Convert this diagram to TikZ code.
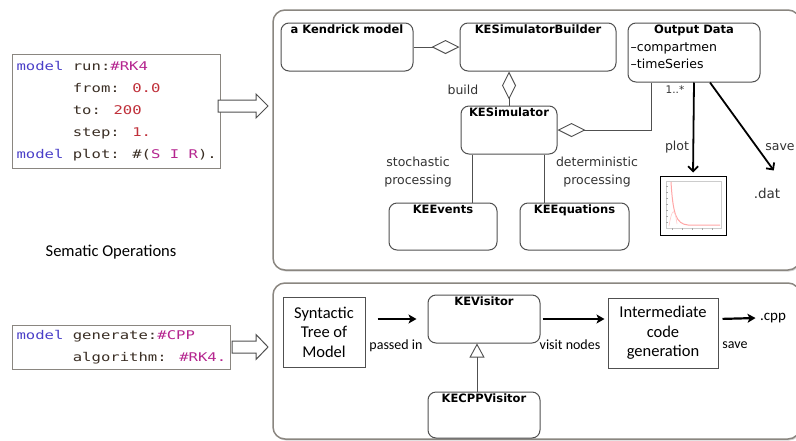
\documentclass[tikz,border=0pt]{standalone}
\usepackage{fontspec}
\usetikzlibrary{positioning,arrows.meta,shadows}

\newfontfamily\umlfont{DejaVu Sans}
\newfontfamily\calfont{Carlito}
\newfontfamily\codefont[FakeStretch=1.3]{DejaVu Sans Mono}

\definecolor{kwblue}{HTML}{4A3FC8}
\definecolor{symmag}{HTML}{B5258F}
\definecolor{numred}{HTML}{C0303A}
\definecolor{codetxt}{HTML}{3A2E24}
\definecolor{panelgray}{HTML}{8A8680}
\definecolor{umlgray}{HTML}{505050}

\newcommand{\kw}[1]{\textcolor{kwblue}{#1}}
\newcommand{\symb}[1]{\textcolor{symmag}{#1}}
\newcommand{\numval}[1]{\textcolor{numred}{#1}}
\newcommand{\ind}{\hphantom{model\ }}
% hollow block arrow: tail point, length, shaft half width, head half width
\newcommand{\hollowarrow}[4]{%
  \draw[draw=umlgray, line width=1pt, fill=white, line join=miter]
    ($(#1)+(0,-#3)$) -- ++(#2-12,0) -- ++(0,#3-#4) -- ($(#1)+(#2,0)$)
    -- ($(#1)+(#2-12,#4)$) -- ++(0,#3-#4) -- ($(#1)+(0,#3)$) -- cycle;}

\usetikzlibrary{calc}

\begin{document}
\begin{tikzpicture}[x=1pt, y=-1pt,
  panel/.style={draw=panelgray, line width=1.5pt, rounded corners=12pt, fill=white,
    drop shadow={shadow xshift=1pt, shadow yshift=-1.5pt, opacity=.35}},
  umlbox/.style={draw=umlgray, line width=1pt, rounded corners=8pt, fill=white},
  ttl/.style={anchor=north, inner sep=2pt, font=\umlfont\bfseries\fontsize{11.5}{13}\selectfont},
  umltitle/.style={label={[ttl]north:#1}},
  codebox/.style={draw=panelgray, line width=1pt, anchor=north west, align=left,
    inner sep=4pt, text=codetxt, font=\codefont\fontsize{12}{22}\selectfont},
  plainbox/.style={draw=umlgray, line width=1pt, align=center,
    font=\calfont\fontsize{16.5}{19.5}\selectfont},
  lbl/.style={font=\umlfont\fontsize{12.5}{18}\selectfont, align=center, text=black!80},
  flowlbl/.style={font=\calfont\fontsize{14}{16}\selectfont},
  conn/.style={draw=umlgray, line width=0.9pt},
  diam/.style={conn, -{Diamond[open, length=28pt, width=14pt]}},
  inherit/.style={conn, -{Triangle[open, length=14pt, width=15pt]}},
  bigbarb/.style={line width=1.8pt, -{Straight Barb[length=5pt, width=10pt]}},
  flow/.style={line width=2.2pt, -{Stealth[length=8pt, width=9pt, inset=2pt]}}]

  \useasboundingbox (0,0) rectangle (796,440);
  \fill[white] (0,0) rectangle (796,440);

  % --- Left side: code snippets ---
  \node[codebox, minimum width=201pt, minimum height=114pt] (codeRun) at (12,54)
    {\kw{model} run:\symb{\#RK4}\\
     \ind from: \numval{0.0}\\
     \ind to: \numval{200}\\
     \ind step: \numval{1.}\\
     \kw{model} plot: \#(\symb{S I R}).};
  \node[codebox, minimum width=211pt, minimum height=44pt] (codeGen) at (12,325)
    {\kw{model} generate:\symb{\#CPP}\\
     \ind algorithm: \symb{\#RK4.}};
  \node[font=\calfont\fontsize{16.5}{19}\selectfont] (semLabel) at (111,252) {Sematic Operations};

  \coordinate (arrRun) at (218,106);
  \coordinate (arrGen) at (232,347);
  \hollowarrow{arrRun}{50}{6}{12}
  \hollowarrow{arrGen}{36}{6}{12.5}

  % --- Panels ---
  \node[panel, minimum width=527pt, minimum height=260pt] (semPanel) at (536.5,140) {};
  \node[panel, minimum width=527pt, minimum height=156pt] (genPanel) at (536.5,361) {};

  % --- Upper panel: simulation classes ---
  \node[umlbox, minimum width=132pt, minimum height=48pt, umltitle=a Kendrick model] (kendrick) at (347,47) {};
  \node[umlbox, minimum width=156pt, minimum height=48pt, umltitle=KESimulatorBuilder] (builder) at (538,47) {};
  \node[umlbox, minimum width=132pt, minimum height=59pt, umltitle=Output Data,
    label={[anchor=north west, align=left, inner sep=3pt, yshift=-17pt,
      font=\umlfont\fontsize{12.5}{17}\selectfont]north west:{–compartmen\\–timeSeries}}] (outdata) at (694,52.5) {};
  \node[umlbox, minimum width=96pt, minimum height=48pt, umltitle=KESimulator] (sim) at (509,130) {};
  \node[umlbox, minimum width=108pt, minimum height=47pt, umltitle=KEEvents] (events) at (443,226.5) {};
  \node[umlbox, minimum width=109pt, minimum height=47pt, umltitle=KEEquations] (equations) at (574.5,226.5) {};

  \node[draw, line width=1pt, minimum width=66pt, minimum height=59pt] (plotfig) at (693,205.5) {};
  \draw[black!20, line width=0.5pt] (666,181) rectangle (721,228);
  \foreach \ty in {186,192,...,222} \draw[black!35, line width=0.4pt] (666,\ty) -- (668,\ty);
  \foreach \tx in {672,682,...,712} \draw[black!35, line width=0.4pt] (\tx,228) -- (\tx,230);
  \draw[red!35, line width=1pt] (671,182) .. controls (673,214) and (676,224) .. (688,225) -- (720,225);
  \draw[red!20, line width=0.6pt] (669,226) .. controls (671,214) and (674,202) .. (677,224);

  \node[lbl] (dat) at (767,193) {\fontsize{13.5}{15}\selectfont .dat};
  \node[lbl] (build) at (463,90) {build};
  \node[lbl, font=\umlfont\fontsize{10.5}{12}\selectfont] (mult) at (675,90) {1..*};
  \node[lbl] (plotlbl) at (677,147) {plot};
  \node[lbl] (savelbl) at (780,147) {save};
  \node[lbl] (stoch) at (418,172) {stochastic\\processing};
  \node[lbl] (determ) at (597,172) {deterministic\\processing};

  \draw[diam] (kendrick) -- (builder);
  \draw[diam] (sim.north) -- (sim.north |- builder.south);
  \draw[diam] ([xshift=24pt]outdata.south west) |- (sim.east);
  \draw[conn] ([xshift=12pt]sim.south west) -- ([xshift=12pt]sim.south west |- events.north);
  \draw[conn] ([xshift=-13pt]sim.south east) -- ([xshift=-13pt]sim.south east |- equations.north);
  \draw[bigbarb, shorten >=3pt] (outdata.south) -- (plotfig.north);
  \draw[bigbarb, shorten >=17pt] ([xshift=16pt]outdata.south) -- (dat.north east);

  % --- Lower panel: code generation ---
  \node[plainbox, minimum width=82pt, minimum height=70pt] (tree) at (324,332) {Syntactic\\Tree of\\Model};
  \node[umlbox, minimum width=112pt, minimum height=48pt, umltitle=KEVisitor] (visitor) at (484,319) {};
  \node[umlbox, minimum width=112pt, minimum height=46pt, umltitle=KECPPVisitor] (cppvisitor) at (484,415) {};
  \node[plainbox, minimum width=110pt, minimum height=70pt] (intercode) at (663,333) {Intermediate\\code\\generation};
  \node[flowlbl, font=\calfont\fontsize{15}{17}\selectfont] (cppfile) at (773,318) {.cpp};
  \node[flowlbl] (passed) at (396,346) {passed in};
  \node[flowlbl] (visit) at (570,345) {visit nodes};
  \node[flowlbl] (savecpp) at (735,345) {save};

  \draw[flow, shorten <=12pt, shorten >=11pt] (tree.east |- visitor) -- (visitor.west);
  \draw[flow, shorten <=2pt, shorten >=3pt] (visitor.east) -- (intercode.west |- visitor);
  \draw[flow, shorten <=4pt, shorten >=1pt] (intercode.east |- visitor) -- (cppfile.west);
  \draw[inherit] ([xshift=-7pt]cppvisitor.north) -- ([xshift=-7pt]visitor.south);
\end{tikzpicture}
\end{document}
